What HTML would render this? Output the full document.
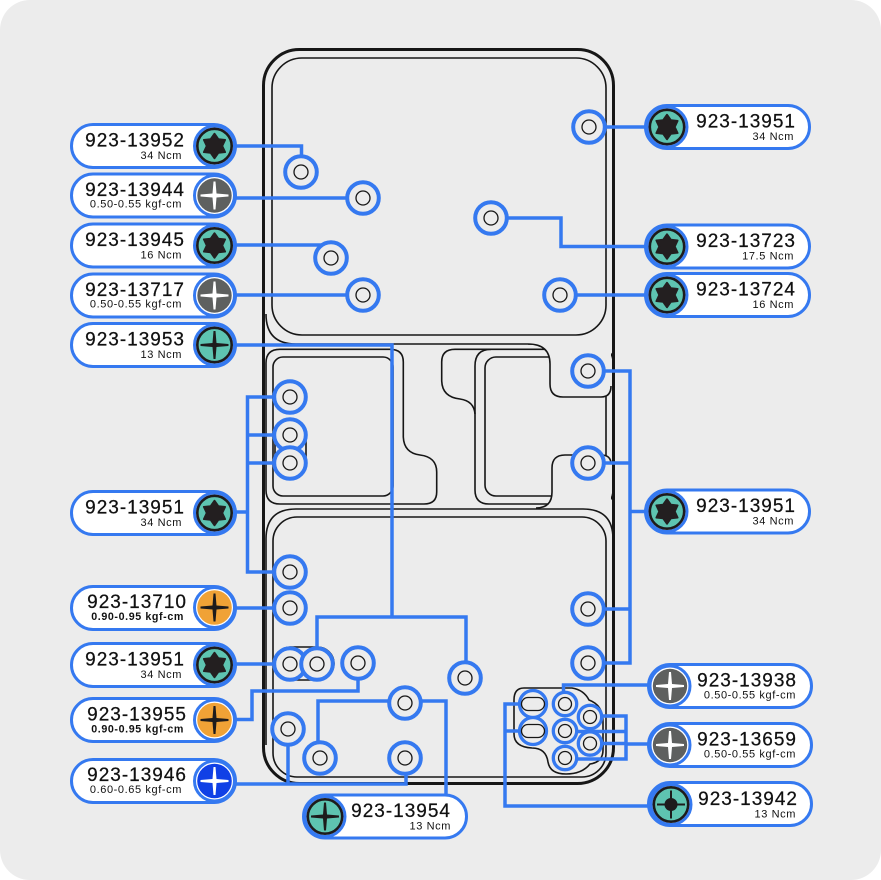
<!DOCTYPE html>
<html><head><meta charset="utf-8"><style>
html,body{margin:0;padding:0;background:#fff;}
svg{display:block}
.b{font-family:"Liberation Sans",sans-serif;font-size:19px;letter-spacing:1px;fill:#111;text-anchor:end;stroke:#111;stroke-width:0.25px}
.s{font-family:"Liberation Sans",sans-serif;font-size:11px;letter-spacing:.6px;fill:#111;text-anchor:end}
.sb{font-family:"Liberation Sans",sans-serif;font-size:10.7px;font-weight:bold;letter-spacing:.6px;fill:#111;text-anchor:end}
</style></head><body>
<svg width="881" height="880" viewBox="0 0 881 880" xmlns="http://www.w3.org/2000/svg">
<rect x="0" y="0" width="881" height="880" rx="30" fill="#ececec"/>

<!-- device outline -->
<g fill="none" stroke="#161616" stroke-width="1.6">
  <rect x="263.5" y="49.5" width="350" height="734" rx="36" stroke-width="3"/>
  <rect x="272" y="58" width="334" height="277" rx="30"/>
  <path d="M266 314 Q266 344 296 344 L532 344"/>
  <path d="M280 349.3 L390 349.3 Q403.3 349.3 403.3 362 L403.3 437 Q404 453 420 455 Q436.7 457 436.7 472 L436.7 492 Q436.7 504 424 504 L280 504 Q266 504 266 490 L266 363 Q266 349.3 280 349.3Z"/>
  <rect x="273" y="357" width="120" height="139" rx="10"/>
  <path d="M455 349.3 L600 349.3 Q613 349.3 613 362 L613 490 Q613 504 600 504 L489 504 Q475 504 475 490 L475 414 Q474 401 460 399 Q441.7 397 441.7 380 L441.7 362 Q441.7 349.3 455 349.3Z"/>
  <path d="M475 414 L475 366 Q475 349.3 491 349.3"/>
  <rect x="485" y="357" width="121" height="139" rx="11"/>
  <path d="M528 344 Q550 344 550 364 L550 384 Q550 397 563 397 L601 397 Q611 397 611 386 L611 340 L528 340 Z" fill="#ececec" stroke="none"/>
  <path d="M528 344 Q550 344 550 364 L550 384 Q550 397 563 397 L601 397 Q611 397 611 386"/>
  <path d="M611 464 Q611 455 601 455 L565 455 Q552 455 552 468 L552 492 Q552 508 536 508 L611 508 Z" fill="#ececec" stroke="none"/>
  <path d="M611 464 Q611 455 601 455 L565 455 Q552 455 552 468 L552 492 Q552 508 536 508"/>
  <path d="M266 745 L266 539 Q266 509 296 509 L583 509 Q613 509 613 539 L613 745"/>
  <rect x="273" y="517" width="333" height="260" rx="24"/>
  <rect x="274" y="647" width="60" height="33" rx="16.5"/>
  <rect x="275" y="420" width="31" height="57" rx="15.5"/>
  <path d="M524 688 L572 688 Q584 690 589 700 Q603 705 603 722 L603 750 Q603 762 590 764 Q582 774 566 774 Q550 774 548 762 Q546 748 532 748 Q514 747 514 734 L514 700 Q514 688 524 688Z"/>
</g>

<!-- connectors -->
<g fill="none" stroke="#3579f0" stroke-width="3.5">
  <path d="M235 146 H301.5 V160"/>
  <path d="M235 198 H363"/>
  <path d="M235 245 H331 V255"/>
  <path d="M235 295 H363"/>
  <path d="M235 345 H392 V617"/>
  <path d="M317 663 V617 H466 V677"/>
  <path d="M235 512 H247.5"/>
  <path d="M290 397 H247.5 V572 H290"/>
  <path d="M247.5 435 H290"/>
  <path d="M247.5 463 H290"/>
  <path d="M235 608 H290"/>
  <path d="M235 664 H290"/>
  <path d="M235 719.5 H252 V691 H358 V663"/>
  <path d="M235 784 H406 V758"/>
  <path d="M288 729 V784"/>
  <path d="M446 795 V701 H318 V758"/>
  <path d="M589 127 H648"/>
  <path d="M491 218 H561 V246.5 H648"/>
  <path d="M560 295 H648"/>
  <path d="M630 511.5 H648"/>
  <path d="M588 371 H630 V663 H588"/>
  <path d="M588 463 H630"/>
  <path d="M588 609 H630"/>
  <path d="M648 685 H563.5 V704"/>
  <path d="M648 744 H626"/>
  <path d="M590 716 H626 V759 H565"/>
  <path d="M565 731.5 H626"/>
  <path d="M590 743.5 H626"/>
  <path d="M650 806 H505 V704 H533"/>
  <path d="M505 731 H533"/>
</g>

<!-- screws -->
<g>
  <g fill="#ececec" stroke="#3579f0" stroke-width="4">
    <circle cx="301" cy="172" r="15.8"/><circle cx="363" cy="198" r="15.8"/><circle cx="331" cy="258" r="15.8"/><circle cx="363" cy="295" r="15.8"/>
    <circle cx="589" cy="127" r="15.8"/><circle cx="491" cy="218" r="15.8"/><circle cx="560" cy="295" r="15.8"/>
    <circle cx="290" cy="397" r="15.8"/><circle cx="290" cy="435" r="15.8"/><circle cx="290" cy="463" r="15.8"/>
    <circle cx="588" cy="371" r="15.8"/><circle cx="588" cy="463" r="15.8"/>
    <circle cx="290" cy="572" r="15.8"/><circle cx="290" cy="608" r="15.8"/><circle cx="290" cy="664" r="15.8"/><circle cx="317" cy="664" r="15.8"/>
    <circle cx="358" cy="663" r="15.8"/><circle cx="465" cy="678" r="15.8"/><circle cx="588" cy="609" r="15.8"/><circle cx="588" cy="663" r="15.8"/>
    <circle cx="288" cy="729" r="15.8"/><circle cx="405" cy="703" r="15.8"/><circle cx="320" cy="758" r="15.8"/><circle cx="405" cy="758" r="15.8"/>
  </g>
  <g fill="none" stroke="#161616" stroke-width="1.3">
    <circle cx="301" cy="172" r="7"/><circle cx="363" cy="198" r="7"/><circle cx="331" cy="258" r="7"/><circle cx="363" cy="295" r="7"/>
    <circle cx="589" cy="127" r="7"/><circle cx="491" cy="218" r="7"/><circle cx="560" cy="295" r="7"/>
    <circle cx="290" cy="397" r="7"/><circle cx="290" cy="435" r="7"/><circle cx="290" cy="463" r="7"/>
    <circle cx="588" cy="371" r="7"/><circle cx="588" cy="463" r="7"/>
    <circle cx="290" cy="572" r="7"/><circle cx="290" cy="608" r="7"/><circle cx="290" cy="664" r="7"/><circle cx="317" cy="664" r="7"/>
    <circle cx="358" cy="663" r="7"/><circle cx="465" cy="678" r="7"/><circle cx="588" cy="609" r="7"/><circle cx="588" cy="663" r="7"/>
    <circle cx="288" cy="729" r="7"/><circle cx="405" cy="703" r="7"/><circle cx="320" cy="758" r="7"/><circle cx="405" cy="758" r="7"/>
  </g>
  <!-- cluster -->
  <g fill="#ececec" stroke="#3579f0" stroke-width="3.3">
    <circle cx="533" cy="704" r="13.5"/><circle cx="533" cy="731" r="13.5"/>
    <circle cx="565" cy="704" r="11.7"/><circle cx="565" cy="731" r="11.7"/><circle cx="565" cy="758" r="11.7"/>
    <circle cx="590" cy="717" r="11.7"/><circle cx="590" cy="743.5" r="11.7"/>
  </g>
  <g fill="none" stroke="#161616" stroke-width="1.3">
    <rect x="521.5" y="697.5" width="23" height="13" rx="6.5"/><rect x="521.5" y="724.5" width="23" height="13" rx="6.5"/>
    <circle cx="565" cy="704" r="6.5"/><circle cx="565" cy="731" r="6.5"/><circle cx="565" cy="758" r="6.5"/>
    <circle cx="590" cy="717" r="6.5"/><circle cx="590" cy="743.5" r="6.5"/>
  </g>
</g>

<!-- pills -->
<g fill="#fff" stroke="#3579f0" stroke-width="3">
  <rect x="71.5" y="124.5" width="164" height="43" rx="21.5"/>
  <rect x="71.5" y="174" width="164" height="43" rx="21.5"/>
  <rect x="71.5" y="224" width="164" height="43" rx="21.5"/>
  <rect x="71.5" y="274" width="164" height="43" rx="21.5"/>
  <rect x="71.5" y="323.5" width="164" height="43" rx="21.5"/>
  <rect x="71.5" y="491.5" width="164" height="43" rx="21.5"/>
  <rect x="71.5" y="586.5" width="164" height="43" rx="21.5"/>
  <rect x="71.5" y="643.5" width="164" height="43" rx="21.5"/>
  <rect x="71.5" y="698.5" width="164" height="43" rx="21.5"/>
  <rect x="71.5" y="759.5" width="164" height="43" rx="21.5"/>
  <rect x="645.5" y="105.5" width="164" height="43" rx="21.5"/>
  <rect x="645.5" y="225" width="164" height="43" rx="21.5"/>
  <rect x="645.5" y="273.5" width="164" height="43" rx="21.5"/>
  <rect x="645.5" y="490" width="164" height="43" rx="21.5"/>
  <rect x="648.5" y="664.5" width="163" height="43" rx="21.5"/>
  <rect x="648.5" y="723.5" width="163" height="43" rx="21.5"/>
  <rect x="648.5" y="782.5" width="163" height="43" rx="21.5"/>
  <rect x="303.5" y="795" width="163" height="43" rx="21.5"/>
</g>

<!-- icons -->
<g>
  <!-- torx icons -->
  <g transform="translate(214.5,146)"><circle r="20" fill="#fff" stroke="#3579f0" stroke-width="3"/><circle r="17.2" fill="#5ec4b1" stroke="#1d1b1c" stroke-width="2.6"/><polygon points="0,-12.3 3.9,-6.8 10.65,-6.15 7.8,0 10.65,6.15 3.9,6.8 0,12.3 -3.9,6.8 -10.65,6.15 -7.8,0 -10.65,-6.15 -3.9,-6.8" fill="#231f20" stroke="#231f20" stroke-width="1.8" stroke-linejoin="round"/></g>
  <g transform="translate(214.5,245.5)"><circle r="20" fill="#fff" stroke="#3579f0" stroke-width="3"/><circle r="17.2" fill="#5ec4b1" stroke="#1d1b1c" stroke-width="2.6"/><polygon points="0,-12.3 3.9,-6.8 10.65,-6.15 7.8,0 10.65,6.15 3.9,6.8 0,12.3 -3.9,6.8 -10.65,6.15 -7.8,0 -10.65,-6.15 -3.9,-6.8" fill="#231f20" stroke="#231f20" stroke-width="1.8" stroke-linejoin="round"/></g>
  <g transform="translate(214.5,513)"><circle r="20" fill="#fff" stroke="#3579f0" stroke-width="3"/><circle r="17.2" fill="#5ec4b1" stroke="#1d1b1c" stroke-width="2.6"/><polygon points="0,-12.3 3.9,-6.8 10.65,-6.15 7.8,0 10.65,6.15 3.9,6.8 0,12.3 -3.9,6.8 -10.65,6.15 -7.8,0 -10.65,-6.15 -3.9,-6.8" fill="#231f20" stroke="#231f20" stroke-width="1.8" stroke-linejoin="round"/></g>
  <g transform="translate(214.5,665)"><circle r="20" fill="#fff" stroke="#3579f0" stroke-width="3"/><circle r="17.2" fill="#5ec4b1" stroke="#1d1b1c" stroke-width="2.6"/><polygon points="0,-12.3 3.9,-6.8 10.65,-6.15 7.8,0 10.65,6.15 3.9,6.8 0,12.3 -3.9,6.8 -10.65,6.15 -7.8,0 -10.65,-6.15 -3.9,-6.8" fill="#231f20" stroke="#231f20" stroke-width="1.8" stroke-linejoin="round"/></g>
  <g transform="translate(667,127)"><circle r="20" fill="#fff" stroke="#3579f0" stroke-width="3"/><circle r="17.2" fill="#5ec4b1" stroke="#1d1b1c" stroke-width="2.6"/><polygon points="0,-12.3 3.9,-6.8 10.65,-6.15 7.8,0 10.65,6.15 3.9,6.8 0,12.3 -3.9,6.8 -10.65,6.15 -7.8,0 -10.65,-6.15 -3.9,-6.8" fill="#231f20" stroke="#231f20" stroke-width="1.8" stroke-linejoin="round"/></g>
  <g transform="translate(667,246.5)"><circle r="20" fill="#fff" stroke="#3579f0" stroke-width="3"/><circle r="17.2" fill="#5ec4b1" stroke="#1d1b1c" stroke-width="2.6"/><polygon points="0,-12.3 3.9,-6.8 10.65,-6.15 7.8,0 10.65,6.15 3.9,6.8 0,12.3 -3.9,6.8 -10.65,6.15 -7.8,0 -10.65,-6.15 -3.9,-6.8" fill="#231f20" stroke="#231f20" stroke-width="1.8" stroke-linejoin="round"/></g>
  <g transform="translate(667,295)"><circle r="20" fill="#fff" stroke="#3579f0" stroke-width="3"/><circle r="17.2" fill="#5ec4b1" stroke="#1d1b1c" stroke-width="2.6"/><polygon points="0,-12.3 3.9,-6.8 10.65,-6.15 7.8,0 10.65,6.15 3.9,6.8 0,12.3 -3.9,6.8 -10.65,6.15 -7.8,0 -10.65,-6.15 -3.9,-6.8" fill="#231f20" stroke="#231f20" stroke-width="1.8" stroke-linejoin="round"/></g>
  <g transform="translate(667,511.5)"><circle r="20" fill="#fff" stroke="#3579f0" stroke-width="3"/><circle r="17.2" fill="#5ec4b1" stroke="#1d1b1c" stroke-width="2.6"/><polygon points="0,-12.3 3.9,-6.8 10.65,-6.15 7.8,0 10.65,6.15 3.9,6.8 0,12.3 -3.9,6.8 -10.65,6.15 -7.8,0 -10.65,-6.15 -3.9,-6.8" fill="#231f20" stroke="#231f20" stroke-width="1.8" stroke-linejoin="round"/></g>

  <!-- gray phillips -->
  <g transform="translate(214.5,195.5)"><circle r="20" fill="#fff" stroke="#3579f0" stroke-width="3"/><circle r="17.2" fill="#5e605f"/><polygon points="-1,-14 1,-14 2,-2 14,-1 14,1 2,2 1,14 -1,14 -2,2 -14,1 -14,-1 -2,-2" fill="#fff"/></g>
  <g transform="translate(214.5,295.5)"><circle r="20" fill="#fff" stroke="#3579f0" stroke-width="3"/><circle r="17.2" fill="#5e605f"/><polygon points="-1,-14 1,-14 2,-2 14,-1 14,1 2,2 1,14 -1,14 -2,2 -14,1 -14,-1 -2,-2" fill="#fff"/></g>
  <g transform="translate(670,686)"><circle r="20" fill="#fff" stroke="#3579f0" stroke-width="3"/><circle r="17.2" fill="#5e605f"/><polygon points="-1,-14 1,-14 2,-2 14,-1 14,1 2,2 1,14 -1,14 -2,2 -14,1 -14,-1 -2,-2" fill="#fff"/></g>
  <g transform="translate(670,745)"><circle r="20" fill="#fff" stroke="#3579f0" stroke-width="3"/><circle r="17.2" fill="#5e605f"/><polygon points="-1,-14 1,-14 2,-2 14,-1 14,1 2,2 1,14 -1,14 -2,2 -14,1 -14,-1 -2,-2" fill="#fff"/></g>

  <!-- teal phillips -->
  <g transform="translate(214.5,345)"><circle r="20" fill="#fff" stroke="#3579f0" stroke-width="3"/><circle r="17.2" fill="#5ec4b1" stroke="#1d1b1c" stroke-width="2.6"/><polygon points="-1,-14 1,-14 2,-2 14,-1 14,1 2,2 1,14 -1,14 -2,2 -14,1 -14,-1 -2,-2" fill="#1d1b1c"/></g>
  <g transform="translate(325,816.5)"><circle r="20" fill="#fff" stroke="#3579f0" stroke-width="3"/><circle r="17.2" fill="#5ec4b1" stroke="#1d1b1c" stroke-width="2.6"/><polygon points="-1,-14 1,-14 2,-2 14,-1 14,1 2,2 1,14 -1,14 -2,2 -14,1 -14,-1 -2,-2" fill="#1d1b1c"/></g>

  <!-- orange -->
  <g transform="translate(214.5,607.5)"><circle r="20" fill="#fff" stroke="#3579f0" stroke-width="3"/><circle r="17.3" fill="#f0a236"/><polygon points="-1,-14 1,-14 2,-2 14,-1 14,1 2,2 1,14 -1,14 -2,2 -14,1 -14,-1 -2,-2" fill="#1d1b1c"/></g>
  <g transform="translate(214.5,720)"><circle r="20" fill="#fff" stroke="#3579f0" stroke-width="3"/><circle r="17.3" fill="#f0a236"/><polygon points="-1,-14 1,-14 2,-2 14,-1 14,1 2,2 1,14 -1,14 -2,2 -14,1 -14,-1 -2,-2" fill="#1d1b1c"/></g>

  <!-- blue -->
  <g transform="translate(214.5,781)"><circle r="20" fill="#fff" stroke="#3579f0" stroke-width="3"/><circle r="17.3" fill="#1040e6"/><polygon points="-1,-14 1,-14 2,-2 14,-1 14,1 2,2 1,14 -1,14 -2,2 -14,1 -14,-1 -2,-2" fill="#fff"/></g>

  <!-- teal dot -->
  <g transform="translate(671,804.5)"><circle r="20" fill="#fff" stroke="#3579f0" stroke-width="3"/><circle r="17.2" fill="#5ec4b1" stroke="#1d1b1c" stroke-width="2.6"/><circle r="6.5" fill="#1d1b1c"/><path d="M0,-14 V14 M-14,0 H14" stroke="#1d1b1c" stroke-width="2"/></g>
</g>

<!-- text -->
<g>
  <text class="b" x="185" y="146.7">923-13952</text><text class="s" x="182" y="159">34 Ncm</text>
  <text class="b" x="185" y="196">923-13944</text><text class="s" x="182" y="207.5">0.50-0.55 kgf-cm</text>
  <text class="b" x="185" y="246">923-13945</text><text class="s" x="182" y="258.5">16 Ncm</text>
  <text class="b" x="185" y="296">923-13717</text><text class="s" x="182" y="307.5">0.50-0.55 kgf-cm</text>
  <text class="b" x="185" y="345.7">923-13953</text><text class="s" x="182" y="358">13 Ncm</text>
  <text class="b" x="185" y="513.7">923-13951</text><text class="s" x="182" y="526">34 Ncm</text>
  <text class="b" x="187" y="608">923-13710</text><text class="sb" x="184" y="620">0.90-0.95  kgf-cm</text>
  <text class="b" x="185" y="665.7">923-13951</text><text class="s" x="182" y="678">34 Ncm</text>
  <text class="b" x="187" y="720.5">923-13955</text><text class="sb" x="184" y="732.5">0.90-0.95  kgf-cm</text>
  <text class="b" x="187" y="781">923-13946</text><text class="s" x="182" y="793">0.60-0.65 kgf-cm</text>

  <text class="b" x="796" y="127.7">923-13951</text><text class="s" x="794" y="140">34 Ncm</text>
  <text class="b" x="796" y="247.2">923-13723</text><text class="s" x="794" y="259.5">17.5 Ncm</text>
  <text class="b" x="796" y="295.7">923-13724</text><text class="s" x="794" y="308">16 Ncm</text>
  <text class="b" x="796" y="512.2">923-13951</text><text class="s" x="794" y="524.5">34 Ncm</text>
  <text class="b" x="797" y="686.7">923-13938</text><text class="s" x="796" y="698.5">0.50-0.55 kgf-cm</text>
  <text class="b" x="797" y="745.7">923-13659</text><text class="s" x="796" y="757.5">0.50-0.55 kgf-cm</text>
  <text class="b" x="798" y="805">923-13942</text><text class="s" x="796" y="817.5">13 Ncm</text>
  <text class="b" x="451" y="817.2">923-13954</text><text class="s" x="451" y="829.5">13 Ncm</text>
</g>
</svg>
</body></html>
